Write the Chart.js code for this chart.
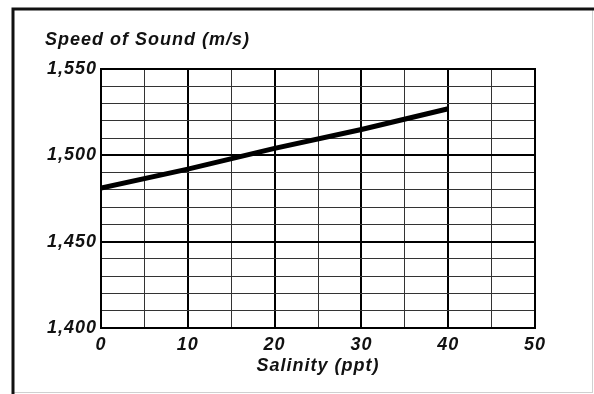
<!DOCTYPE html>
<html>
<head>
<meta charset="utf-8">
<script src="https://cdn.jsdelivr.net/npm/chart.js@4/dist/chart.umd.min.js"></script>
<style>
  html, body { margin: 0; padding: 0; background: #fff; }
  #wrap { width: 594px; height: 394px; }
</style>
</head>
<body>
<div id="wrap"><canvas id="c" width="594" height="394"></canvas></div>
<script>
// Speed of sound in water versus salinity
const salinity = [0, 10, 20, 30, 40];            // ppt
const soundSpeed = [1481, 1492, 1504, 1515, 1527]; // m/s
const xTickLabels = [0, 10, 20, 30, 40, 50];
const yTickLabels = [1400, 1450, 1500, 1550];

const yTitle = 'Speed of Sound (m/s)';
const xTitle = 'Salinity (ppt)';
const FONT = '"Liberation Sans", Arial, sans-serif';

// Page frame and the axis caption above the plot
const framePlugin = {
  id: 'frame',
  beforeDraw(chart) {
    const ctx = chart.ctx;
    ctx.save();
    ctx.fillStyle = '#fff';
    ctx.fillRect(0, 0, chart.width, chart.height);
    ctx.strokeStyle = '#d0d0d0';
    ctx.lineWidth = 1;
    ctx.beginPath();
    ctx.moveTo(592.5, 9); ctx.lineTo(592.5, 393);
    ctx.moveTo(13, 392.5); ctx.lineTo(593, 392.5);
    ctx.stroke();
    ctx.strokeStyle = '#111';
    ctx.lineWidth = 3;
    ctx.beginPath();
    ctx.moveTo(13, 394); ctx.lineTo(13, 9); ctx.lineTo(594, 9);
    ctx.stroke();
    ctx.restore();
    // slightly wider lettering for all labels
    ctx.letterSpacing = '1px';
  },
  afterDraw(chart) {
    const ctx = chart.ctx;
    const a = chart.chartArea;
    ctx.save();
    ctx.strokeStyle = '#000';
    ctx.lineWidth = 2;
    ctx.strokeRect(a.left, a.top, a.right - a.left, a.bottom - a.top);
    ctx.fillStyle = '#111';
    ctx.font = 'italic bold 18px ' + FONT;
    ctx.letterSpacing = '1px';
    ctx.textBaseline = 'middle';
    ctx.textAlign = 'left';
    ctx.fillText(yTitle, 45, 40);
    ctx.restore();
  }
};

new Chart(document.getElementById('c'), {
  type: 'line',
  data: {
    datasets: [{
      data: salinity.map((s, i) => ({ x: s, y: soundSpeed[i] })),
      borderColor: '#000',
      borderWidth: 5,
      pointRadius: 0,
      tension: 0,
      fill: false
    }]
  },
  options: {
    responsive: false,
    animation: false,
    events: [],
    layout: { padding: { left: 0, top: 69, right: 59, bottom: 0 } },
    plugins: { legend: { display: false }, tooltip: { enabled: false } },
    scales: {
      x: {
        type: 'linear',
        min: 0, max: 50,
        afterFit(scale) { scale.height = 66; },
        border: { display: false },
        grid: {
          drawTicks: false,
          color: (c) => (c.tick && c.tick.value % 10 === 0) ? '#000' : '#333',
          lineWidth: (c) => (c.tick && c.tick.value % 10 === 0) ? 2 : 1
        },
        ticks: {
          stepSize: 5,
          autoSkip: false,
          maxRotation: 0,
          padding: 6,
          color: '#111',
          font: { family: FONT, size: 18, style: 'italic', weight: 'bold' },
          callback: (v) => xTickLabels.includes(v) ? String(v) : ''
        },
        title: {
          display: true,
          text: xTitle,
          color: '#111',
          font: { family: FONT, size: 18, style: 'italic', weight: 'bold' },
          padding: { top: 0, bottom: 17 }
        }
      },
      y: {
        type: 'linear',
        min: 1400, max: 1550,
        afterFit(scale) { scale.width = 101; },
        border: { display: false },
        grid: {
          drawTicks: false,
          color: (c) => (c.tick && c.tick.value % 50 === 0) ? '#000' : '#333',
          lineWidth: (c) => (c.tick && c.tick.value % 50 === 0) ? 2 : 1
        },
        ticks: {
          stepSize: 10,
          autoSkip: false,
          padding: 4,
          color: '#111',
          font: { family: FONT, size: 18, style: 'italic', weight: 'bold' },
          callback: (v) => yTickLabels.includes(v) ? v.toLocaleString('en-US') : ''
        }
      }
    }
  },
  plugins: [framePlugin]
});
</script>
</body>
</html>
